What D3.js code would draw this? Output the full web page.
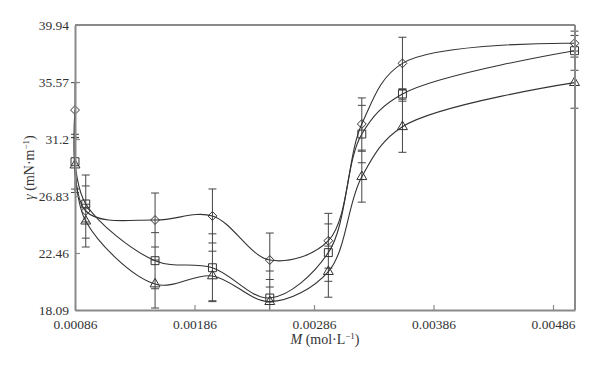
<!DOCTYPE html>
<html>
<head>
<meta charset="utf-8">
<script src="https://cdn.jsdelivr.net/npm/d3@7"></script>
<style>
  body { margin: 0; background: #fff; }
  svg { display: block; font-family: "Liberation Serif", "DejaVu Serif", serif; }
</style>
</head>
<body>
<svg id="chart" width="600" height="366"></svg>
<script>
// concentration M (mol/L)
var concentrations = [0.00086, 0.00095, 0.00153, 0.00201, 0.00249, 0.00298, 0.00326, 0.00360, 0.00504];

// surface tension (mN/m) for the three series
var diamondValues  = [33.42, 25.68, 24.99, 25.30, 21.92, 23.40, 32.35, 37.00, 38.54];
var squareValues   = [29.46, 26.22, 21.87, 21.33, 19.01, 22.49, 31.58, 34.65, 37.97];
var triangleValues = [29.20, 24.90, 20.08, 20.70, 18.73, 21.03, 28.31, 32.14, 35.52];

// error bar half-widths
var diamondErr  = [2.1, 2.76, 2.07, 2.07, 2.07, 2.1, 2.0, 2.0, 0.6];
var squareErr   = [2.1, 1.38, 2.15, 2.6, 2.07, 2.2, 2.2, 0.4, 1.5];
var triangleErr = [2.1, 1.3, 1.84, 1.9, 1.7, 1.96, 1.95, 1.96, 1.96];

var xTicks = [0.00086, 0.00186, 0.00286, 0.00386, 0.00486];
var yTicks = [18.09, 22.46, 26.83, 31.2, 35.57, 39.94];
var yTickLabels = ["18.09", "22.46", "26.83", "31.2", "35.57", "39.94"];

var series = [
  { name: "diamond",  values: diamondValues,  err: diamondErr,  symbol: d3.symbolDiamond2, size: 50 },
  { name: "square",   values: squareValues,   err: squareErr,   symbol: d3.symbolSquare2,  size: 80 },
  { name: "triangle", values: triangleValues, err: triangleErr, symbol: d3.symbolTriangle2, size: 70 }
];

var margin = { top: 25, right: 25, bottom: 56, left: 75 };
var width = 600 - margin.left - margin.right;
var height = 366 - margin.top - margin.bottom;

var svg = d3.select("#chart");
var g = svg.append("g").attr("transform", "translate(" + margin.left + "," + margin.top + ")");

var x = d3.scaleLinear().domain([0.00086, 0.005044]).range([0, width]);
var y = d3.scaleLinear().domain([18.09, 39.94]).range([height, 0]);

var frameColor = "#8a8a8a";
var inkColor = "#333";

g.append("defs").append("clipPath").attr("id", "plot-clip")
  .append("rect").attr("x", -6).attr("y", 0).attr("width", width + 12).attr("height", height);

/* ERROR BARS */

var errGroup = g.append("g").attr("clip-path", "url(#plot-clip)");

concentrations.forEach(function(c, i) {
  var lows = series.map(s => s.values[i] - s.err[i]);
  var highs = series.map(s => s.values[i] + s.err[i]);
  var cx = x(c);

  errGroup.append("line")
    .attr("x1", cx).attr("x2", cx)
    .attr("y1", y(d3.max(highs))).attr("y2", y(d3.min(lows)))
    .style("stroke", "#444")
    .style("stroke-width", 1);

  lows.concat(highs).forEach(function(v) {
    errGroup.append("line")
      .attr("x1", cx - 4).attr("x2", cx + 4)
      .attr("y1", y(v)).attr("y2", y(v))
      .style("stroke", "#444")
      .style("stroke-width", 1);
  });
});

/* CURVES */

var line = d3.line()
  .x((d, i) => x(concentrations[i]))
  .y(d => y(d))
  .curve(d3.curveCatmullRom.alpha(0.5));

g.selectAll("path.curve")
  .data(series)
  .enter()
  .append("path")
  .classed("curve", true)
  .attr("d", d => line(d.values))
  .style("fill", "none")
  .style("stroke", inkColor)
  .style("stroke-width", 1.1);

/* MARKERS */

series.forEach(function(s) {
  g.selectAll("path.m-" + s.name)
    .data(s.values)
    .enter()
    .append("path")
    .attr("class", "m-" + s.name)
    .attr("transform", (d, i) => "translate(" + x(concentrations[i]) + "," + y(d) + ")")
    .attr("d", d3.symbol().type(s.symbol).size(s.size))
    .style("fill", "none")
    .style("stroke", inkColor)
    .style("stroke-width", 1);
});

/* AXES */

var xAxis = d3.axisBottom(x)
  .tickValues(xTicks)
  .tickFormat(d3.format(".5f"))
  .tickSizeInner(-5)
  .tickSizeOuter(0)
  .tickPadding(9);

var yAxis = d3.axisLeft(y)
  .tickValues(yTicks)
  .tickFormat((d, i) => yTickLabels[i])
  .tickSizeInner(-5)
  .tickSizeOuter(0)
  .tickPadding(6);

var gx = g.append("g").attr("transform", "translate(0," + height + ")").call(xAxis);
var gy = g.append("g").call(yAxis);

[gx, gy].forEach(function(a) {
  a.attr("font-family", null).attr("font-size", null);
  a.select(".domain").style("stroke", frameColor).style("stroke-width", 2);
  a.selectAll(".tick line").style("stroke", frameColor).style("stroke-width", 1.2);
  a.selectAll(".tick text").style("fill", inkColor).style("font-size", "13.5px");
});

// top and right frame
g.append("line").attr("x1", 0).attr("x2", width).attr("y1", 0).attr("y2", 0)
  .style("stroke", frameColor).style("stroke-width", 2);
g.append("line").attr("x1", width).attr("x2", width).attr("y1", 0).attr("y2", height)
  .style("stroke", frameColor).style("stroke-width", 2);

/* TITLES */

var xt = g.append("text")
  .attr("x", width / 2)
  .attr("y", height + 34)
  .attr("text-anchor", "middle")
  .style("font-size", "14px")
  .style("fill", inkColor);
xt.append("tspan").style("font-style", "italic").text("M");
xt.append("tspan").text(" (mol·L");
xt.append("tspan").attr("dy", -5).style("font-size", "9px").text("−1");
xt.append("tspan").attr("dy", 5).text(")");

var yt = g.append("text")
  .attr("transform", "translate(" + (-41) + "," + (height / 2) + ") rotate(-90)")
  .attr("text-anchor", "middle")
  .style("font-size", "14px")
  .style("fill", inkColor);
yt.append("tspan").style("font-style", "italic").text("γ");
yt.append("tspan").text(" (mN·m");
yt.append("tspan").attr("dy", -5).style("font-size", "9px").text("−1");
yt.append("tspan").attr("dy", 5).text(")");
</script>
</body>
</html>
